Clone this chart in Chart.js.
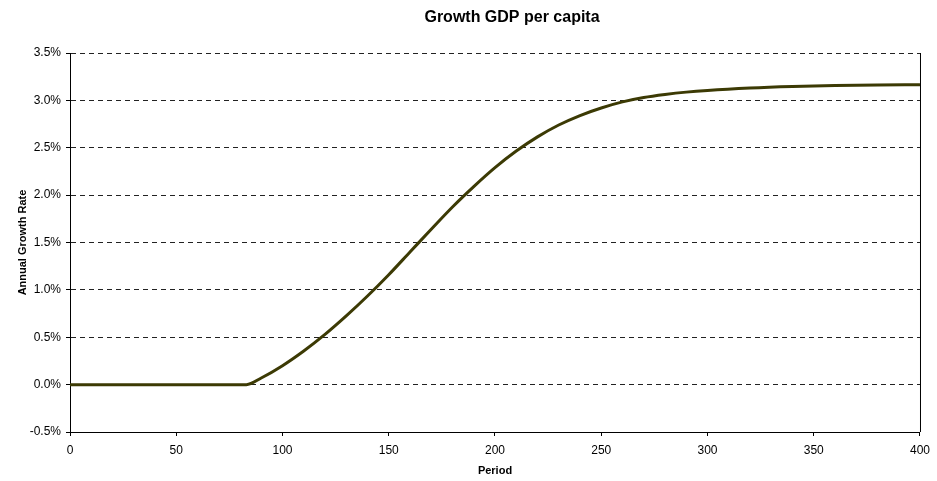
<!DOCTYPE html>
<html>
<head>
<meta charset="utf-8">
<script src="https://cdn.jsdelivr.net/npm/chart.js@4/dist/chart.umd.min.js"></script>
<style>
    html, body { margin: 0; padding: 0; background: #fff; }
    #wrap { width: 937px; height: 481px; }
</style>
</head>
<body>
<div id="wrap"><canvas id="chart" width="937" height="481"></canvas></div>
<script>
// Growth of GDP per capita over time (percent per year)
const periods = [
    0, 10, 20, 30, 40, 50, 60, 70, 80, 83, 90, 100, 110, 120, 130, 140, 150,
    160, 170, 180, 190, 200, 210, 220, 230, 240, 250, 260, 270, 280, 290, 300,
    320, 340, 360, 380, 400,
];
const growth = [
    0, 0, 0, 0, 0, 0, 0, 0, 0, 0, 0.07, 0.2, 0.355, 0.53, 0.725, 0.935, 1.16,
    1.4, 1.64, 1.875, 2.09, 2.29, 2.465, 2.615, 2.74, 2.84, 2.92, 2.984, 3.03,
    3.062, 3.087, 3.105, 3.13, 3.146, 3.156, 3.162, 3.166,
];
const yTicks = [-0.5, 0, 0.5, 1, 1.5, 2, 2.5, 3, 3.5];

const points = periods.map((p, i) => ({ x: p, y: growth[i] }));

// Chart heading and right edge of the plot frame
const frame = {
    id: "frame",
    afterDraw(c) {
        const { ctx, chartArea } = c;
        ctx.save();
        ctx.strokeStyle = "#000";
        ctx.lineWidth = 1;
        ctx.beginPath();
        ctx.moveTo(chartArea.right + 0.5, chartArea.top);
        ctx.lineTo(chartArea.right + 0.5, chartArea.bottom);
        ctx.stroke();

        ctx.fillStyle = "#000";
        ctx.font = "bold 16px 'Liberation Sans', Arial, sans-serif";
        ctx.textAlign = "center";
        ctx.textBaseline = "middle";
        ctx.fillText("Growth GDP per capita", 512, 18);
        ctx.restore();
    },
};

Chart.defaults.font.family = "'Liberation Sans', Arial, sans-serif";
Chart.defaults.color = "#000";

new Chart(document.querySelector("#chart").getContext("2d"), {
    type: "line",
    data: {
        datasets: [
            {
                label: "Growth",
                data: points,
                borderColor: "#3c3a04",
                borderWidth: 3,
                pointRadius: 0,
                cubicInterpolationMode: "monotone",
                fill: false,
            },
        ],
    },
    options: {
        responsive: false,
        animation: false,
        layout: { padding: { left: 0, right: 16, top: 53, bottom: 0 } },
        plugins: {
            legend: { display: false },
            tooltip: { enabled: false },
        },
        scales: {
            x: {
                type: "linear",
                min: 0,
                max: 400,
                ticks: { stepSize: 50, font: { size: 12 }, padding: 7, maxRotation: 0 },
                grid: { drawOnChartArea: false, drawTicks: true, tickLength: 4, color: "#000" },
                border: { color: "#000", width: 1 },
                title: {
                    display: true,
                    text: "Period",
                    font: { size: 11, weight: "bold" },
                    padding: { top: 0, bottom: 3 },
                },
                afterFit: (s) => { s.height = 49; },
            },
            y: {
                min: -0.5,
                max: 3.5,
                afterBuildTicks: (s) => { s.ticks = yTicks.map((v) => ({ value: v })); },
                ticks: {
                    font: { size: 12 },
                    padding: 5,
                    callback: (v) => v.toFixed(1) + "%",
                },
                grid: {
                    color: "#222",
                    lineWidth: 1,
                    tickLength: 4,
                    tickColor: "#000",
                },
                border: { color: "#000", width: 1, dash: [5, 4] },
                title: {
                    display: true,
                    text: "Annual Growth Rate",
                    font: { size: 11, weight: "bold" },
                    padding: { top: 16, bottom: 0 },
                },
                afterFit: (s) => { s.width = 70; },
            },
        },
    },
    plugins: [frame],
});
</script>
</body>
</html>
